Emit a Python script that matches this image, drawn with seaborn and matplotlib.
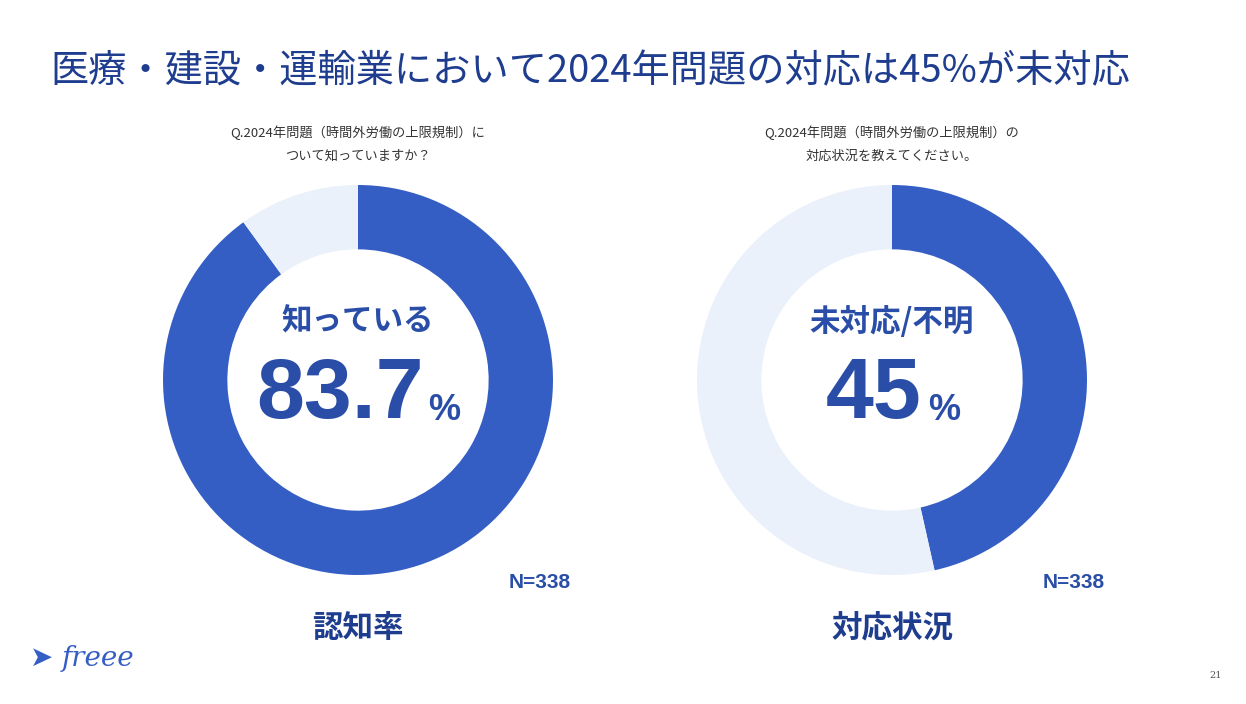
import matplotlib
matplotlib.use('Agg')
import matplotlib.pyplot as plt
import seaborn as sns

sns.set_theme(style="white")
plt.rcParams['font.family'] = ['Noto Sans CJK JP', 'DejaVu Sans']

BLUE = "#355ec5"
LIGHT = "#eaf1fb"
NAVY = "#2a4ea8"
TITLE = "#1f3d8f"

left_values = [90, 10]
right_values = [46.5, 53.5]
left_big = "83.7"
right_big = "45"
left_label = "知っている"
right_label = "未対応/不明"
left_caption = "認知率"
right_caption = "対応状況"
left_q = "Q.2024年問題（時間外労働の上限規制）に\nついて知っていますか？"
right_q = "Q.2024年問題（時間外労働の上限規制）の\n対応状況を教えてください。"
n_text = "N=338"

W, H = 1246, 704
fig = plt.figure(figsize=(W / 100, H / 100), dpi=100)
fig.patch.set_facecolor("white")

def px(x, y):
    return x / W, 1 - y / H

fig.text(*px(50, 72), "医療・建設・運輸業において2024年問題の対応は45%が未対応",
         fontsize=27.5, color=TITLE, va="center", ha="left")

def donut(cx, cy, vals, label, big, caption, q):
    r = 195
    ax = fig.add_axes([(cx - r) / W, (H - cy - r) / H, 2 * r / W, 2 * r / H])
    ax.pie(vals, colors=[BLUE, LIGHT], startangle=90, counterclock=False,
           wedgeprops=dict(width=0.33, edgecolor="none"))
    ax.set_xlim(-1, 1)
    ax.set_ylim(-1, 1)
    ax.set_aspect("equal")
    ax.axis("off")
    fig.text(*px(cx, 144), q, fontsize=9.5, color="#333333", ha="center", va="center",
             linespacing=1.9)
    fig.text(*px(cx, 322), label, fontsize=22, color=NAVY, fontweight="bold",
             ha="center", va="center")
    fig.text(*px(cx - 18, 396), big, fontsize=62, color=NAVY, fontweight="bold",
             family="Liberation Sans", ha="center", va="center")
    off = 86 if len(big) > 2 else 52
    fig.text(*px(cx + off, 410), "%", fontsize=26, color=NAVY, fontweight="bold",
             family="Liberation Sans", ha="center", va="center")
    fig.text(*px(cx + 182, 582), n_text, fontsize=15, color=NAVY, fontweight="bold",
             family="Liberation Sans", ha="center", va="center")
    fig.text(*px(cx, 628), caption, fontsize=22, color=TITLE, fontweight="bold",
             ha="center", va="center")

donut(358, 380, left_values, left_label, left_big, left_caption, left_q)
donut(892, 380, right_values, right_label, right_big, right_caption, right_q)

fig.text(*px(98, 658), "freee", fontsize=20, color=BLUE, style="italic",
         ha="center", va="center", family="DejaVu Serif")
fig.text(*px(42, 658), "➤", fontsize=20, color=BLUE, ha="center", va="center",
         family="DejaVu Sans")
fig.text(*px(1216, 676), "21", fontsize=7, color="#555555", ha="center", va="center",
         family="DejaVu Serif")

fig.savefig("out.png", dpi=100)
